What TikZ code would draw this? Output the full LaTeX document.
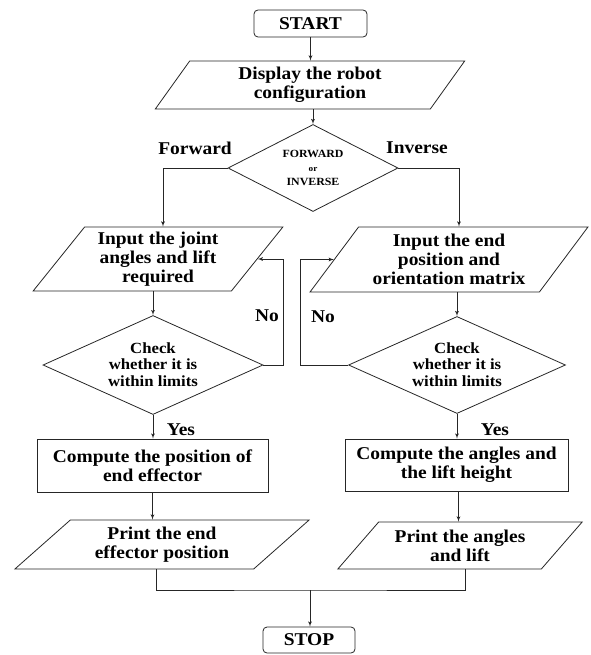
\documentclass[tikz,border=0pt]{standalone}
\usepackage{fontspec}
\setmainfont{Liberation Serif}[FakeStretch=1.08]
\usetikzlibrary{shapes.geometric,arrows}
\tikzstyle{base}=[draw=black!85, line width=0.8pt, align=center, inner sep=0pt,
	font=\fontsize{18}{19}\selectfont\bfseries]
\tikzstyle{terminal}=[base, rectangle, rounded corners=4pt]
\tikzstyle{process}=[base, rectangle]
\tikzstyle{io}=[base, trapezium, trapezium stretches=true]
\tikzstyle{decision}=[base, diamond, font=\fontsize{15.5}{16.7}\selectfont\bfseries]
\tikzstyle{texto}=[inner sep=0pt, font=\fontsize{18}{19}\selectfont\bfseries]
\tikzstyle{line}=[draw, line width=0.8pt, color=black!85, -latex']
\newcommand{\ioNode}[3]{node (p#1) [io, #2] {#3}}
\newcommand{\decNode}[3]{node (p#1) [decision, #2]
	{\smash{\raisebox{-0.32em}{\begin{tabular}{@{}c@{}}#3\end{tabular}}}}}

\begin{document}
\begin{tikzpicture}[x=1pt, y=-1pt]
	\useasboundingbox (0,0) rectangle (590,655);

	\path (310.5,23.5) node (p1) [terminal, minimum width=113, minimum height=27] {START};
	\path (310,85) \ioNode{2}{minimum width=310, minimum height=48,
		trapezium left angle=60, trapezium right angle=120}{Display the robot\\ configuration};
	\path (313,168) \decNode{3}{minimum width=170, minimum height=87,
		font=\fontsize{11}{14}\selectfont\bfseries}
		{FORWARD\\ \fontsize{8.5}{14}\selectfont or\\ INVERSE};

	% forward branch
	\path (158,259) \ioNode{4}{minimum width=250, minimum height=64,
		trapezium left angle=52, trapezium right angle=128}{Input the joint\\ angles and lift\\ required};
	\path (153,365) \decNode{6}{minimum width=220, minimum height=99}
		{Check\\ whether it is\\ within limits};
	\path (152.5,465.5) node (p8) [process, minimum width=231, minimum height=53]
		{Compute the position of\\ end effector};
	\path (162,544.5) \ioNode{10}{minimum width=295, minimum height=49,
		trapezium left angle=41, trapezium right angle=139}{Print the end\\ effector position};

	% inverse branch
	\path (449,259.5) \ioNode{5}{minimum width=278, minimum height=65,
		trapezium left angle=51, trapezium right angle=129}{Input the end\\ position and\\ orientation matrix};
	\path (457,365) \decNode{7}{minimum width=217, minimum height=97}
		{Check\\ whether it is\\ within limits};
	\path (456.5,465) node (p9) [process, minimum width=223, minimum height=52]
		{Compute the angles and\\ the lift height};
	\path (460,545.5) \ioNode{11}{minimum width=245, minimum height=47,
		trapezium left angle=44, trapezium right angle=136}{Print the angles\\ and lift};

	\path (309,640) node (p12) [terminal, minimum width=92, minimum height=26] {STOP};
	\coordinate (merge) at (310,590);

	% labels
	\path (195,148) node (u1) [texto] {Forward};
	\path (417,148) node (u2) [texto] {Inverse};
	\path (267,316) node (u3) [texto] {No};
	\path (323,317) node (u4) [texto] {No};
	\path (181,430) node (u5) [texto] {Yes};
	\path (495,430) node (u6) [texto] {Yes};

	% Draw arrows between elements
	\path [line] (p1.south) -- (p1.south |- p2.north);
	\path [line] (p3.north |- p2.south) -- (p3.north);
	\path [line] (p3.west) -| ([xshift=5]p4.north);
	\path [line] (p3.east) -| ([xshift=10]p5.north);

	\path [line] (p6.north |- p4.south) -- (p6.north);
	\path [line] (p7.north |- p5.south) -- (p7.north);
	\path [line] (p6.east) -- ++(20,0) |- (p4.east);
	\path [line] (p7.west) -- ++(-48,0) |- (p5.west);

	\path [line] (p6.south) -- (p6.south |- p8.north);
	\path [line] (p7.south) -- (p7.south |- p9.north);
	\path [line] (p8.south) -- (p8.south |- p10.north);
	\path [line] ([xshift=2]p9.south) -- ([xshift=2]p9.south |- p11.north);

	\draw [line width=0.8pt, color=black!85] ([xshift=-6]p10.south) |- (merge) -| ([xshift=5]p11.south);
	\path [line] (merge) -- (merge |- p12.north);

\end{tikzpicture}
\end{document}
